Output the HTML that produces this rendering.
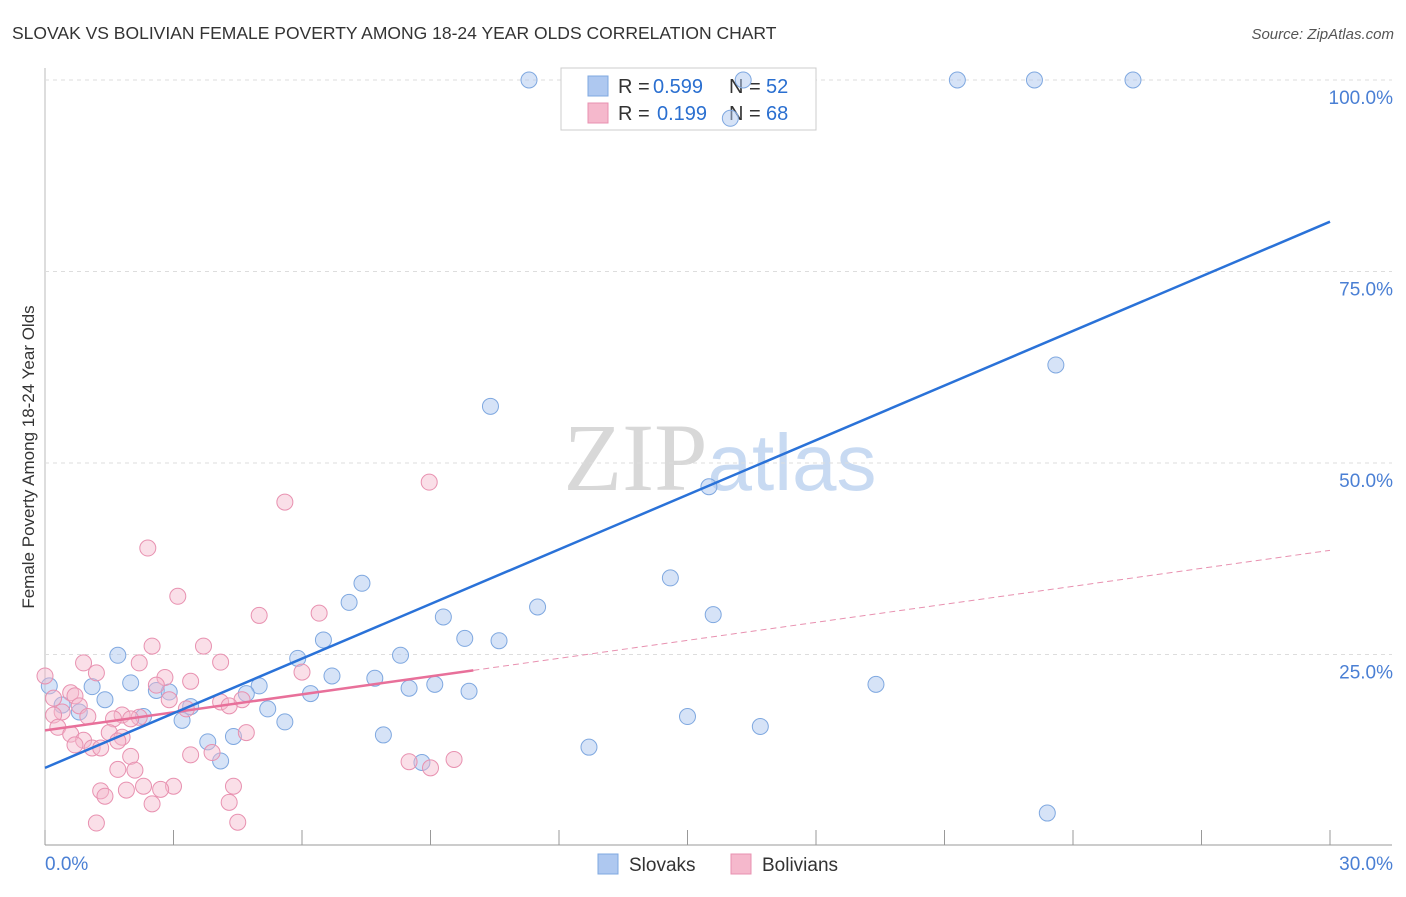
<!DOCTYPE html>
<html><head><meta charset="utf-8"><style>
body{margin:0;background:#fff;font-family:"Liberation Sans",sans-serif;}
</style></head><body>
<svg width="1406" height="892" xmlns="http://www.w3.org/2000/svg" id="chart">
<text x="12" y="39" font-size="17.5" fill="#333">SLOVAK VS BOLIVIAN FEMALE POVERTY AMONG 18-24 YEAR OLDS CORRELATION CHART</text>
<text x="1394" y="39" font-size="15" fill="#555" text-anchor="end" font-style="italic">Source: ZipAtlas.com</text>
<text x="720" y="490" font-size="96" text-anchor="middle" fill="#ddd" font-family="Liberation Serif"><tspan fill="#d8d8d8">ZIP</tspan><tspan fill="#c8daf2" font-family="Liberation Sans" font-size="80">atlas</tspan></text>
<text transform="translate(34,457) rotate(-90)" font-size="17" fill="#333" text-anchor="middle">Female Poverty Among 18-24 Year Olds</text>
<g id="grid"></g>
<g>
<rect x="561" y="68" width="255" height="62" fill="#fff" stroke="#ccc"/>
<rect x="588" y="76" width="20" height="20" fill="#aec8f0" stroke="#7fa8e0"/>
<rect x="588" y="103" width="20" height="20" fill="#f5b8cc" stroke="#e891b0"/>
<text x="618" y="93" font-size="20" fill="#333">R =</text>
<text x="653" y="93" font-size="20" fill="#2a6fd0">0.599</text>
<text x="729" y="93" font-size="20" fill="#333">N =</text>
<text x="766" y="93" font-size="20" fill="#2a6fd0">52</text>
<text x="618" y="120" font-size="20" fill="#333">R =</text>
<text x="657" y="120" font-size="20" fill="#2a6fd0">0.199</text>
<text x="729" y="120" font-size="20" fill="#333">N =</text>
<text x="766" y="120" font-size="20" fill="#2a6fd0">68</text>
</g>
<g id="marks"></g>
<g>
<rect x="598" y="854" width="20" height="20" fill="#aec8f0" stroke="#7fa8e0"/>
<text x="629" y="871" font-size="19" fill="#333">Slovaks</text>
<rect x="731" y="854" width="20" height="20" fill="#f5b8cc" stroke="#e891b0"/>
<text x="762" y="871" font-size="19" fill="#333">Bolivians</text>
</g>
</svg>
<script>
const xTicks=[0,3,6,9,12,15,18,21,24,27,30];
const yTicks=[25,50,75,100];
const yTickLabels=["25.0%","50.0%","75.0%","100.0%"];
const slovakX=[11.3,16.3,21.3,23.1,25.4,16,23.6,10.4,15.5,7.4,14.6,7.1,11.5,9.3,15.6,6.5,9.8,10.6,1.7,8.3,5.9,2,6.7,7.7,9.1,19.4,1.1,8.5,2.6,2.9,5,4.7,6.2,9.9,1.4,0.1,0.4,3.4,5.2,0.8,2.3,3.2,5.6,15,16.7,4.4,3.8,7.9,12.7,4.1,8.8,23.4];
const slovakY=[100,100,100,100,100,95,62.8,57.4,46.9,34.3,35,31.8,31.2,29.9,30.2,26.9,27.1,26.8,24.9,24.9,24.5,21.3,22.2,21.9,21.1,21.1,20.8,20.6,20.3,20.1,20.9,19.9,19.9,20.2,19.1,20.9,18.4,18.2,17.9,17.5,16.9,16.4,16.2,16.9,15.6,14.3,13.6,14.5,12.9,11.1,10.9,4.3];
const bolivianX=[8.97,5.6,2.4,3.1,5,6.4,2.5,3.7,0.9,2.2,4.1,1.2,6,0,2.8,3.4,2.6,0.6,0.7,0.2,2.9,4.6,4.1,4.3,3.3,0.8,0.4,0.2,1.8,1,2.2,1.6,2,0.3,0.6,1.5,4.7,1.8,0.9,1.7,0.7,1.1,1.3,3.4,3.9,2,8.5,9.55,9,1.7,2.1,3,4.4,2.3,2.7,1.3,1.9,1.4,4.3,2.5,1.2,4.5];
const bolivianY=[47.5,44.9,38.9,32.6,30.1,30.4,26.1,26.1,23.9,23.9,24,22.6,22.7,22.2,22,21.5,21,20,19.6,19.3,19.1,19.1,18.8,18.3,17.9,18.3,17.5,17.1,17.1,16.9,16.8,16.6,16.6,15.5,14.6,14.8,14.8,14.2,13.8,13.7,13.2,12.8,12.8,11.9,12.2,11.7,11,11.3,10.2,10,9.9,7.8,7.8,7.8,7.4,7.2,7.3,6.5,5.7,5.5,3,3.1];
const blueLine=[10.2,81.5];
const pinkLine=[15.1,38.6];const pinkSolidEnd=10;
const X=v=>45+v*(1285/30), Y=v=>846-v*7.66;
const NS="http://www.w3.org/2000/svg";
const g=document.getElementById('grid'), m=document.getElementById('marks');
function mk(p,tag,a){const e=document.createElementNS(NS,tag);for(const k in a)e.setAttribute(k,a[k]);p.appendChild(e);return e;}
const ax=mk(g,'line',{x1:45,y1:845,x2:1392,y2:845,stroke:'#999'});


const ay=mk(g,'line',{x1:45,y1:68,x2:45,y2:845,stroke:'#bbb'});


xTicks.forEach(t=>{const l=mk(g,'line',{x1:X(t),y1:845,x2:X(t),y2:830,stroke:'#999'});

});
yTicks.forEach((t,i)=>{const l=mk(g,'line',{x1:45,y1:Y(t),x2:1392,y2:Y(t),stroke:'#ddd','stroke-dasharray':'4,4'});


const tx=mk(g,'text',{x:1393,y:Y(t)+24,'font-size':19,fill:'#4a7fd4','text-anchor':'end'});tx.textContent=yTickLabels[i];

});
const x0=mk(g,'text',{x:45,y:870,'font-size':19,fill:'#4a7fd4'});x0.textContent='0.0%';


const x1=mk(g,'text',{x:1393,y:870,'font-size':19,fill:'#4a7fd4','text-anchor':'end'});x1.textContent='30.0%';


slovakX.forEach((v,i)=>{const c=mk(m,'circle',{cx:X(v),cy:Y(slovakY[i]),r:8,fill:'rgba(174,200,240,0.5)',stroke:'#7fa8e0','stroke-width':1});

});
bolivianX.forEach((v,i)=>{const c=mk(m,'circle',{cx:X(v),cy:Y(bolivianY[i]),r:8,fill:'rgba(245,184,204,0.45)',stroke:'#e891b0','stroke-width':1});

});
const pd=mk(m,'line',{x1:X(pinkSolidEnd),y1:Y(pinkLine[0]+(pinkLine[1]-pinkLine[0])*pinkSolidEnd/30),x2:X(30),y2:Y(pinkLine[1]),stroke:'#e891b0','stroke-width':1,'stroke-dasharray':'6,4'});


const ps=mk(m,'line',{x1:X(0),y1:Y(pinkLine[0]),x2:X(pinkSolidEnd),y2:Y(pinkLine[0]+(pinkLine[1]-pinkLine[0])*pinkSolidEnd/30),stroke:'#e8709a','stroke-width':2.5});


const bl=mk(m,'line',{x1:X(0),y1:Y(blueLine[0]),x2:X(30),y2:Y(blueLine[1]),stroke:'#2a72d8','stroke-width':2.5});


</script>
</body></html>
